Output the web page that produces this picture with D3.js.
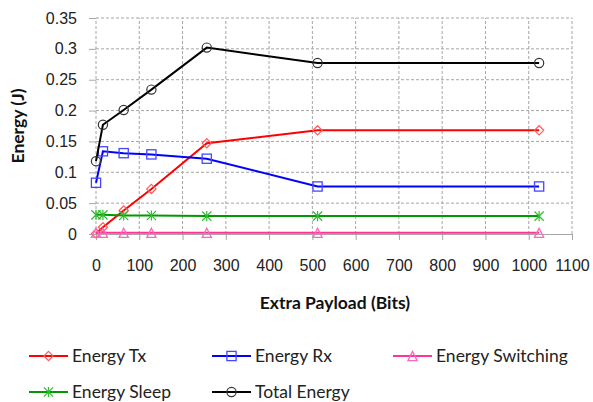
<!DOCTYPE html>
<html><head><meta charset="utf-8">
<script src="https://cdn.jsdelivr.net/npm/d3@7"></script>
<style>
body{margin:0;background:#fff;}
svg{display:block;font-family:Lato,"Open Sans",sans-serif;}
</style></head>
<body><svg id="c" width="593" height="402"></svg>
<script>
const payload = [0, 16, 64, 128, 256, 512, 1024];
const energyTx = [0.001, 0.011, 0.038, 0.073, 0.147, 0.168, 0.168];
const energyRx = [0.083, 0.134, 0.131, 0.129, 0.122, 0.077, 0.077];
const energySwitching = [0.002, 0.002, 0.002, 0.002, 0.002, 0.002, 0.002];
const energySleep = [0.031, 0.031, 0.030, 0.030, 0.029, 0.029, 0.029];
const energyTotal = [0.118, 0.177, 0.201, 0.234, 0.302, 0.277, 0.277];
const xTicks = [0,100,200,300,400,500,600,700,800,900,1000,1100];
const yTicks = [0,0.05,0.1,0.15,0.2,0.25,0.3,0.35];
const yTickLabels = ["0","0.05","0.1","0.15","0.2","0.25","0.3","0.35"];

const series = [
  {name:"Energy Tx", values:energyTx, line:"#ff0000", mk:"#ff5a5a", shape:"diamond"},
  {name:"Energy Rx", values:energyRx, line:"#0000ff", mk:"#4646ff", shape:"square"},
  {name:"Energy Switching", values:energySwitching, line:"#ff3399", mk:"#ff66bb", shape:"triangle"},
  {name:"Energy Sleep", values:energySleep, line:"#009900", mk:"#33bb33", shape:"star"},
  {name:"Total Energy", values:energyTotal, line:"#000000", mk:"#333333", shape:"circle"}
];

const svg = d3.select("#c");
const x = d3.scaleLinear().domain([0,1100]).range([96,572]);
const y = d3.scaleLinear().domain([0,0.35]).range([234,18]);

// gridlines
const g = svg.append("g");
g.selectAll("line.h").data(yTicks.slice(1)).join("line")
  .attr("x1",x(0)).attr("x2",x(1100)).attr("y1",d=>y(d)).attr("y2",d=>y(d))
  .attr("stroke","#a6a6a6").attr("stroke-dasharray","3,2").attr("stroke-width",1);
g.selectAll("line.v").data(xTicks).join("line")
  .attr("y1",y(0)).attr("y2",y(0.35)).attr("x1",d=>x(d)).attr("x2",d=>x(d))
  .attr("stroke","#a6a6a6").attr("stroke-dasharray","3,2").attr("stroke-width",1);

// axes
const xa = svg.append("g").attr("transform",`translate(0,${y(0)})`)
  .call(d3.axisBottom(x).tickValues(xTicks).tickSize(6).tickPadding(20).tickFormat(d3.format("d")));
xa.select(".domain").attr("stroke","#a6a6a6");
xa.selectAll(".tick line").attr("stroke","#a6a6a6");
xa.selectAll("text").attr("font-size",16).attr("fill","#222");

const ya = svg.append("g").attr("transform",`translate(${x(0)},0)`)
  .call(d3.axisLeft(y).tickValues(yTicks).tickSize(7).tickPadding(12).tickFormat((d,i)=>yTickLabels[i]));
ya.select(".domain").remove();
ya.selectAll(".tick line").attr("stroke","#a6a6a6");
ya.selectAll("text").attr("font-size",16).attr("fill","#222");

// titles
svg.append("text").attr("x",335).attr("y",309).attr("text-anchor","middle")
  .attr("font-size",17.5).attr("font-weight","bold").attr("fill","#111").text("Extra Payload (Bits)");
svg.append("text").attr("transform","translate(24,126) rotate(-90)").attr("text-anchor","middle")
  .attr("font-size",17.5).attr("font-weight","bold").attr("fill","#111").text("Energy (J)");

function marker(sel, shape, color){
  const s = 4.6;
  if(shape==="diamond") sel.append("path").attr("d",`M0,${-s}L${s},0L0,${s}L${-s},0Z`).attr("fill","none").attr("stroke",color).attr("stroke-width",1.2);
  else if(shape==="square") sel.append("rect").attr("x",-s).attr("y",-s).attr("width",2*s).attr("height",2*s).attr("fill","none").attr("stroke",color).attr("stroke-width",1.3);
  else if(shape==="triangle") sel.append("path").attr("d",`M0,${-s}L${s},${s}L${-s},${s}Z`).attr("fill","none").attr("stroke",color).attr("stroke-width",1.3);
  else if(shape==="circle") sel.append("circle").attr("r",s).attr("fill","none").attr("stroke",color).attr("stroke-width",1.2);
  else if(shape==="star"){
    sel.append("path").attr("d",`M${-s},${-s}L${s},${s}M${-s},${s}L${s},${-s}M0,${-s-0.5}L0,${s+0.5}`).attr("stroke",color).attr("stroke-width",1.2).attr("fill","none");
  }
}

const line = d3.line().x(d=>x(d[0])).y(d=>y(d[1]));
series.forEach(s=>{
  const pts = payload.map((p,i)=>[p,s.values[i]]);
  svg.append("path").datum(pts).attr("d",line).attr("fill","none").attr("stroke",s.line).attr("stroke-width",2);
  pts.forEach(p=>{
    const m = svg.append("g").attr("transform",`translate(${x(p[0])},${y(p[1])})`);
    marker(m, s.shape, s.mk);
  });
});

// legend
const legPos = [[29,356],[212,356],[393,356],[29,392],[212,392]];
series.forEach((s,i)=>{
  const [lx,ly] = legPos[i];
  const lg = svg.append("g");
  lg.append("line").attr("x1",lx).attr("x2",lx+39).attr("y1",ly).attr("y2",ly).attr("stroke",s.line).attr("stroke-width",2);
  const m = lg.append("g").attr("transform",`translate(${lx+19.5},${ly})`);
  marker(m, s.shape, s.mk);
  lg.append("text").attr("x",lx+43).attr("y",ly+6).attr("font-size",17.5).attr("fill","#222").text(s.name);
});
</script></body></html>
